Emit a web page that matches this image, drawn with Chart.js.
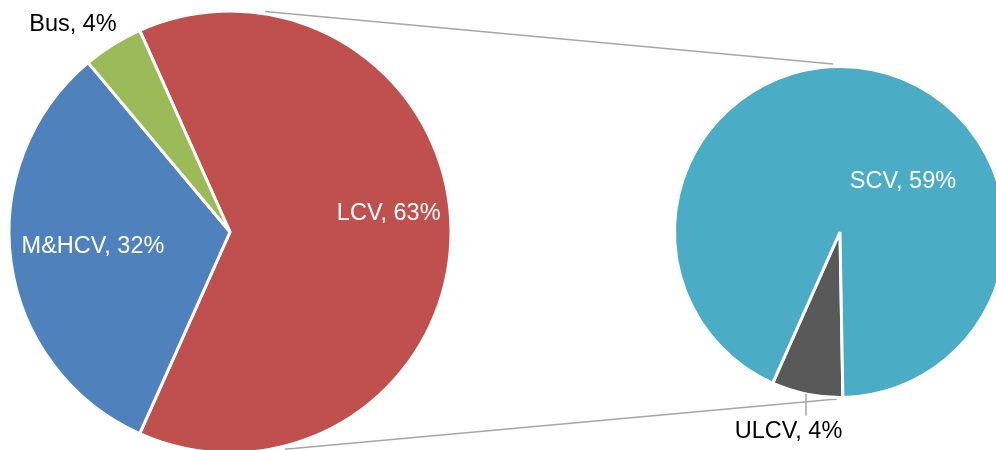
<!DOCTYPE html>
<html>
<head>
<meta charset="utf-8">
<script src="https://cdn.jsdelivr.net/npm/chart.js@4"></script>
<style>
  html, body { margin: 0; padding: 0; background: #ffffff; }
  #wrap { position: relative; width: 996px; height: 450px; overflow: hidden; background: #fff; }
  #wrap canvas { position: absolute; left: 0; top: 0; }
</style>
</head>
<body>
<div id="wrap">
  <canvas id="mainPie" width="1010" height="470" style="width:1010px;height:470px"></canvas>
  <canvas id="subPie" width="1010" height="470" style="width:1010px;height:470px"></canvas>
</div>
<script>
// ---- data ----
const mainCategories = ['LCV', 'M&HCV', 'Bus'];
const mainValues = [63.4, 32.2, 4.4];
const subCategories = ['ULCV', 'SCV'];
const subValues = [4.4, 59.0];

// ---- styles ----
const mainColors = ['#C0504D', '#4F81BD', '#9BBB59'];
const subColors = ['#595959', '#4BACC6'];
const FONT_SIZE = 23.5;
const FONT = FONT_SIZE + 'px "Liberation Sans", Arial, Helvetica, sans-serif';
const CAP = 0.716;
const GRAY = '#a6a6a6';

const total = mainValues.reduce((a, b) => a + b, 0);

// label offsets from pie center (px) and colours
const mainLabelStyle = [
  { dx: 158.7, dy: -20, color: '#ffffff' },
  { dx: -137, dy: 13, color: '#ffffff' },
  { dx: -157, dy: -209.5, color: '#000000' }
];
const subLabelStyle = [
  { dx: -51.5, dy: 198, color: '#000000', leader: { dx: -34, y1: 162, y2: 183.7 } },
  { dx: 63, dy: -52.5, color: '#ffffff' }
];

function labelPlugin(id, cats, styles) {
  return {
    id: id,
    afterDatasetsDraw(chart) {
      const ctx = chart.ctx;
      const meta = chart.getDatasetMeta(0);
      const vals = chart.data.datasets[0].data;
      ctx.save();
      ctx.font = FONT;
      ctx.textAlign = 'center';
      ctx.textBaseline = 'alphabetic';
      meta.data.forEach((arc, i) => {
        const st = styles[i];
        const cx = arc.x, cy = arc.y;
        if (st.leader) {
          ctx.strokeStyle = GRAY;
          ctx.lineWidth = 1.5;
          ctx.beginPath();
          ctx.moveTo(cx + st.leader.dx, cy + st.leader.y1);
          ctx.lineTo(cx + st.leader.dx, cy + st.leader.y2);
          ctx.stroke();
        }
        const pct = Math.round(vals[i] / total * 100);
        ctx.fillStyle = st.color;
        ctx.fillText(cats[i] + ', ' + pct + '%', cx + st.dx, cy + st.dy + FONT_SIZE * CAP / 2);
      });
      ctx.restore();
    }
  };
}

const mainChart = new Chart(document.getElementById('mainPie'), {
  type: 'pie',
  data: {
    labels: mainCategories,
    datasets: [{
      data: mainValues,
      backgroundColor: mainColors,
      borderColor: '#ffffff',
      borderWidth: 3
    }]
  },
  options: {
    responsive: false,
    animation: false,
    events: [],
    rotation: 90 - (mainValues[0] / total) * 180,
    radius: 221,
    layout: { padding: { left: 10, top: 12, right: 560, bottom: 18 } },
    plugins: { legend: { display: false }, tooltip: { enabled: false }, title: { display: false } }
  },
  plugins: [labelPlugin('mainLabels', mainCategories, mainLabelStyle)]
});

const connectorPlugin = {
  id: 'connectors',
  beforeDatasetsDraw(chart) {
    const a = mainChart.getDatasetMeta(0).data[0];
    const b = chart.getDatasetMeta(0).data[0];
    const ar = a.outerRadius, br = b.outerRadius;
    const ctx = chart.ctx;
    ctx.save();
    ctx.strokeStyle = GRAY;
    ctx.lineWidth = 1.5;
    ctx.beginPath();
    // upper connector
    ctx.moveTo(a.x + 35, a.y - ar + 0.5);
    ctx.lineTo(b.x - 7, b.y - br - 2.5);
    // lower connector
    ctx.moveTo(a.x + 55, a.y + ar - 3.7);
    ctx.lineTo(b.x - 3, b.y + br + 1.5);
    ctx.stroke();
    ctx.restore();
  }
};

const subChart = new Chart(document.getElementById('subPie'), {
  type: 'pie',
  data: {
    labels: subCategories,
    datasets: [{
      data: subValues,
      backgroundColor: subColors,
      borderColor: '#ffffff',
      borderWidth: 3
    }]
  },
  options: {
    responsive: false,
    animation: false,
    events: [],
    rotation: 179,
    radius: 165.5,
    layout: { padding: { left: 676, top: 68, right: 6, bottom: 74 } },
    plugins: { legend: { display: false }, tooltip: { enabled: false }, title: { display: false } }
  },
  plugins: [connectorPlugin, labelPlugin('subLabels', subCategories, subLabelStyle)]
});
</script>
</body>
</html>
